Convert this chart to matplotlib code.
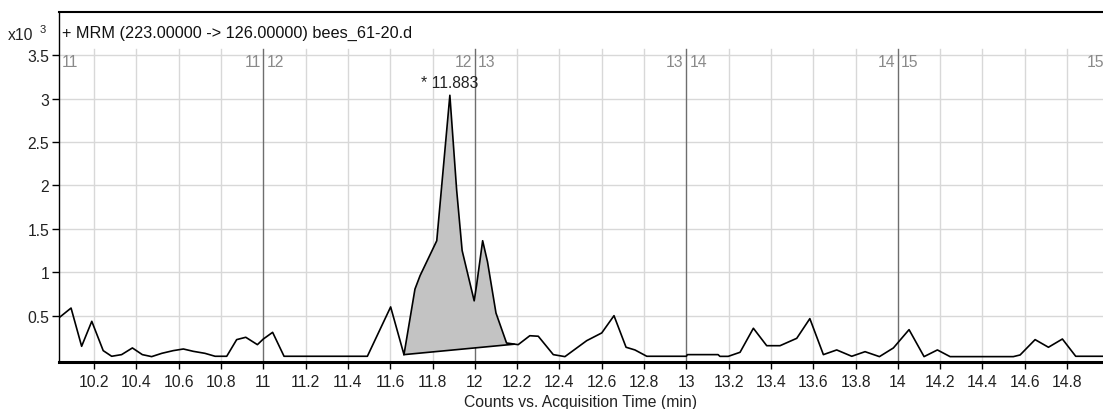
import numpy as np
import matplotlib
matplotlib.use("Agg")
import matplotlib.pyplot as plt

# acquisition time (min) and counts (x10^3)
time_min = [10.031, 10.091, 10.141, 10.189, 10.243, 10.283, 10.330, 10.381, 10.428, 10.472,
            10.520, 10.574, 10.622, 10.669, 10.724, 10.772, 10.827, 10.874, 10.917, 10.972,
            11.000, 11.044, 11.098, 11.492, 11.602, 11.665, 11.717, 11.741, 11.820, 11.882,
            11.914, 11.940, 11.997, 12.008, 12.037, 12.060, 12.100, 12.150, 12.205, 12.260,
            12.300, 12.371, 12.426, 12.529, 12.600, 12.658, 12.715, 12.757, 12.813, 13.000,
            13.005, 13.150, 13.159, 13.198, 13.254, 13.317, 13.380, 13.443, 13.522, 13.584,
            13.648, 13.711, 13.782, 13.845, 13.913, 13.979, 14.053, 14.124, 14.187, 14.247,
            14.546, 14.578, 14.649, 14.712, 14.778, 14.841, 14.970]
counts_k = [0.469, 0.587, 0.146, 0.434, 0.096, 0.031, 0.050, 0.127, 0.050, 0.027,
            0.065, 0.096, 0.115, 0.088, 0.065, 0.031, 0.031, 0.223, 0.250, 0.165,
            0.230, 0.307, 0.031, 0.031, 0.600, 0.050, 0.806, 0.960, 1.363, 3.040,
            1.950, 1.250, 0.670, 0.845, 1.363, 1.120, 0.530, 0.184, 0.165, 0.268,
            0.262, 0.050, 0.027, 0.211, 0.300, 0.499, 0.135, 0.104, 0.031, 0.031,
            0.050, 0.050, 0.030, 0.030, 0.077, 0.354, 0.153, 0.153, 0.238, 0.465,
            0.050, 0.104, 0.031, 0.084, 0.027, 0.127, 0.338, 0.027, 0.104, 0.027,
            0.027, 0.046, 0.223, 0.135, 0.230, 0.031, 0.031]

# integrated peak: start/end of the baseline drawn under it
peak_start = (11.665, 0.050)
peak_end = (12.185, 0.170)
peak_rt = 11.883
peak_height = 3.040

segment_times = [11, 12, 13, 14]
x_ticks = [10.2, 10.4, 10.6, 10.8, 11, 11.2, 11.4, 11.6, 11.8, 12, 12.2, 12.4, 12.6, 12.8,
           13, 13.2, 13.4, 13.6, 13.8, 14, 14.2, 14.4, 14.6, 14.8]
y_ticks = [0.5, 1, 1.5, 2, 2.5, 3, 3.5]

plt.rcParams["font.family"] = ["Liberation Sans", "DejaVu Sans"]
plt.rcParams["font.size"] = 11.3

W, H = 1103, 410
fig = plt.figure(figsize=(W / 100, H / 100), dpi=100)
ax = fig.add_axes([59 / W, 1 - 363 / H, 1 - 59 / W, (363 - 13) / H])
ax.set_xlim(10.034, 14.97)
ax.set_ylim(-0.035, 4.0)

grid_top = 0.894  # grid stops under the title band
for yt in y_ticks:
    ax.axhline(yt, color="#d8d8d8", lw=1, zorder=0)
for xt in x_ticks:
    if xt in segment_times:
        continue
    ax.axvline(xt, ymax=grid_top, color="#d8d8d8", lw=1, zorder=0)
for xt in segment_times:
    ax.axvline(xt, ymax=grid_top, color="#6e6e6e", lw=1, zorder=1)

# segment labels along the top
seg_y = 3.43
ax.text(10.045, seg_y, "11", color="#8a8a8a", ha="left", va="center")
for s in segment_times:
    ax.text(s - 0.012, seg_y, str(s), color="#8a8a8a", ha="right", va="center")
    ax.text(s + 0.015, seg_y, str(s + 1), color="#8a8a8a", ha="left", va="center")
ax.text(14.892, seg_y, "15", color="#8a8a8a", ha="left", va="center")

t = np.array(time_min)
c = np.array(counts_k)
mask = (t >= peak_start[0]) & (t <= 12.150)
poly_x = list(t[mask]) + [peak_end[0]]
poly_y = list(c[mask]) + [peak_end[1]]
ax.fill(poly_x, poly_y, facecolor="#c3c3c3", edgecolor="none", zorder=2)
ax.plot([peak_start[0], peak_end[0]], [peak_start[1], peak_end[1]], color="black", lw=1.2, zorder=3)
ax.plot(t, c, color="black", lw=1.2, zorder=3)

ax.annotate("* 11.883", (peak_rt, peak_height), xytext=(0, 4), textcoords="offset points",
            ha="center", va="bottom", color="#222222")

ax.set_xticks(x_ticks)
ax.set_xticklabels([f"{v:g}" for v in x_ticks])
ax.set_yticks(y_ticks)
ax.set_yticklabels([f"{v:g}" for v in y_ticks])
ax.tick_params(axis="both", direction="out", length=5, width=1, colors="black",
               labelcolor="#222222", labelsize=11.3)
ax.tick_params(axis="x", pad=4)
ax.tick_params(axis="y", pad=2)

ax.spines["right"].set_visible(False)
ax.spines["left"].set_linewidth(1)
ax.spines["top"].set_linewidth(1.5)
ax.spines["bottom"].set_linewidth(2.2)

ax.text(0.003, 0.942, "+ MRM (223.00000 -> 126.00000) bees_61-20.d", transform=ax.transAxes,
        ha="left", va="center", color="#111111", fontsize=11.7)
fig.text(8 / W, 1 - 35 / H, "x10", ha="left", va="center", color="#222222")
fig.text(40 / W, 1 - 30 / H, "3", ha="left", va="center", fontsize=8, color="#222222")

ax.set_xlabel("Counts vs. Acquisition Time (min)", color="#222222", labelpad=3)

fig.savefig("out.png", dpi=100)
